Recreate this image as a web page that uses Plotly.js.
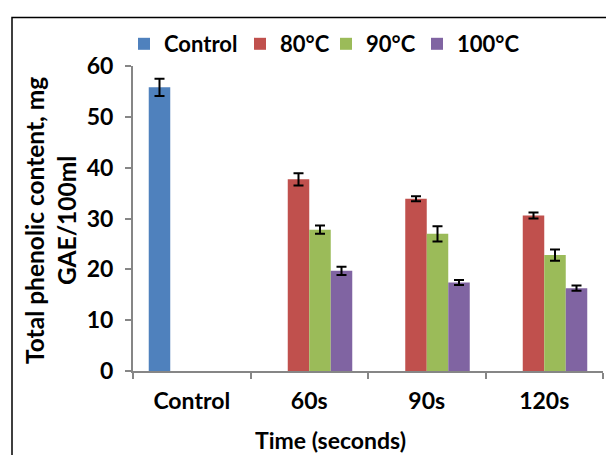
<!DOCTYPE html>
<html>
<head>
<meta charset="utf-8">
<script src="https://cdn.plot.ly/plotly-3.0.1.min.js"></script>
<style>
  html, body { margin: 0; padding: 0; background: #ffffff; }
  #chart { width: 606px; height: 455px; }
</style>
</head>
<body>
<div id="chart"></div>
<script>
// ---- data ----
const categories = ['Control', '60s', '90s', '120s'];
const controlCats = ['Control'];
const treatCats = ['60s', '90s', '120s'];

const controlVals = [55.8];
const controlErr  = [1.7];

const vals80  = [37.7, 33.9, 30.6];
const err80   = [1.2, 0.5, 0.6];
const vals90  = [27.8, 27.0, 22.8];
const err90   = [0.8, 1.5, 1.1];
const vals100 = [19.7, 17.4, 16.3];
const err100  = [0.8, 0.5, 0.5];

const seriesNames = ['Control', '80°C', '90°C', '100°C'];
const colors = ['#4F81BD', '#C0504D', '#9BBB59', '#8064A2'];

const FONT = 'Lato, "Open Sans", sans-serif';
const FS = 23;
const AXIS = '#868686';

function errBar(arr) {
  return { type: 'data', array: arr, visible: true, color: '#000000', thickness: 2, width: 5 };
}

const traces = [
  { type: 'bar', name: seriesNames[0], x: controlCats, y: controlVals, error_y: errBar(controlErr),
    marker: { color: colors[0] }, legend: 'legend' },
  { type: 'bar', name: seriesNames[1], x: treatCats, y: vals80, error_y: errBar(err80),
    marker: { color: colors[1] }, legend: 'legend2' },
  { type: 'bar', name: seriesNames[2], x: treatCats, y: vals90, error_y: errBar(err90),
    marker: { color: colors[2] }, legend: 'legend3' },
  { type: 'bar', name: seriesNames[3], x: treatCats, y: vals100, error_y: errBar(err100),
    marker: { color: colors[3] }, legend: 'legend4' }
];

const L = 133, R = 3, T = 66, B = 84;
const PW = 606 - L - R, PH = 455 - T - B;
function px2x(p) { return (p - L) / PW; }
function py2y(p) { return 1 - (p - T) / PH; }

function legendAt(px) {
  return {
    orientation: 'h', x: px2x(px), y: py2y(44), xanchor: 'left', yanchor: 'middle',
    font: { family: FONT, size: 22, color: '#000000', weight: 'bold' },
    bgcolor: 'rgba(0,0,0,0)', itemwidth: 30, traceorder: 'normal'
  };
}

const layout = {
  width: 606, height: 455,
  margin: { l: L, r: R, t: T, b: B, pad: 0 },
  paper_bgcolor: '#ffffff', plot_bgcolor: '#ffffff',
  font: { family: FONT, size: FS, color: '#000000', weight: 'bold' },
  barmode: 'group', bargap: 0.268, bargroupgap: 0,
  showlegend: true,
  legend: legendAt(124),
  legend2: legendAt(240),
  legend3: legendAt(326),
  legend4: legendAt(417),
  xaxis: {
    type: 'category', categoryorder: 'array', categoryarray: categories,
    range: [-0.5, 3.5], fixedrange: true,
    showline: true, linecolor: AXIS, linewidth: 2,
    ticks: 'outside', tickson: 'boundaries', ticklen: 6, tickcolor: AXIS, tickwidth: 2,
    showgrid: false, zeroline: false,
    tickfont: { family: FONT, size: FS, color: '#000000', weight: 'bold' },
    ticklabelstandoff: 8
  },
  yaxis: {
    range: [0, 60], dtick: 10, tick0: 0, fixedrange: true,
    showline: true, linecolor: AXIS, linewidth: 2,
    ticks: 'outside', ticklen: 6, tickcolor: AXIS, tickwidth: 2,
    showgrid: false, zeroline: false,
    tickfont: { family: FONT, size: FS, color: '#000000', weight: 'bold' },
    ticklabelstandoff: 7
  },
  annotations: [
    { text: 'Total phenolic content, mg<br>GAE/100ml', textangle: -90,
      xref: 'paper', yref: 'paper', x: px2x(50), y: py2y(221),
      xanchor: 'center', yanchor: 'middle', showarrow: false,
      font: { family: FONT, size: 24.5, color: '#000000', weight: 'bold' } },
    { text: 'Time (seconds)',
      xref: 'paper', yref: 'paper', x: px2x(330.5), y: py2y(440),
      xanchor: 'center', yanchor: 'middle', showarrow: false,
      font: { family: FONT, size: FS, color: '#000000', weight: 'bold' } }
  ],
  shapes: [
    { type: 'rect', xref: 'paper', yref: 'paper',
      x0: px2x(12), x1: px2x(700), y0: py2y(520), y1: py2y(17.5),
      line: { color: '#000000', width: 1.5 }, fillcolor: 'rgba(0,0,0,0)', layer: 'above' }
  ]
};

Plotly.newPlot('chart', traces, layout, { displayModeBar: false, staticPlot: true });
</script>
</body>
</html>
